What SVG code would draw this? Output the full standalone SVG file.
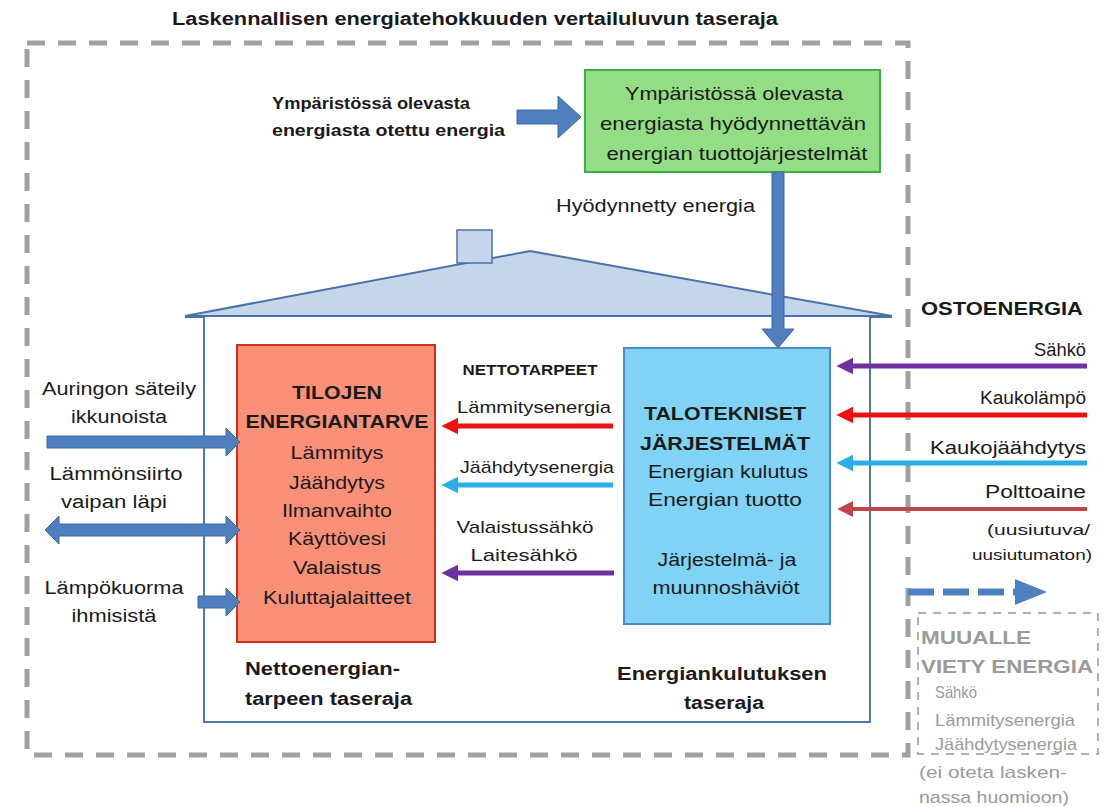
<svg xmlns="http://www.w3.org/2000/svg" width="1114" height="807" viewBox="0 0 1114 807">
<defs>
<style>
text{font-family:"Liberation Sans",Arial,sans-serif;fill:#1a1a1a}
.b{font-weight:bold}
.c{text-anchor:middle}
.r{text-anchor:end}
.f19{font-size:19px}
.f18{font-size:18px}
.f17{font-size:17px}
.f15{font-size:15px}
.g{fill:#9a9a9a}
.blk{fill:#4f7fbf;stroke:#3d69a5;stroke-width:1}
</style>
<marker id="mRed" viewBox="0 0 10 10" refX="2" refY="5" markerWidth="3.4" markerHeight="4" orient="auto"><path d="M0,0 L10,5 L0,10 z" fill="#ee1111"/></marker>
<marker id="mCyan" viewBox="0 0 10 10" refX="2" refY="5" markerWidth="3.4" markerHeight="4" orient="auto"><path d="M0,0 L10,5 L0,10 z" fill="#29aee6"/></marker>
<marker id="mPur" viewBox="0 0 10 10" refX="2" refY="5" markerWidth="3.4" markerHeight="4" orient="auto"><path d="M0,0 L10,5 L0,10 z" fill="#7030a0"/></marker>
<marker id="mBrn" viewBox="0 0 10 10" refX="2" refY="5" markerWidth="4" markerHeight="4.6" orient="auto"><path d="M0,0 L10,5 L0,10 z" fill="#c0454a"/></marker>
</defs>

<rect width="1114" height="807" fill="#ffffff"/>

<g id="boundary">
<text class="b f18 c" x="475" y="25" textLength="606" lengthAdjust="spacingAndGlyphs">Laskennallisen energiatehokkuuden vertailuluvun taseraja</text>
<rect x="27" y="43" width="881" height="712" fill="none" stroke="#a0a0a0" stroke-width="5" stroke-dasharray="18,13"/>
</g>

<g id="house">
<polygon points="185,316 530,251 892,316" fill="#c6d6ea" stroke="#4a72a8" stroke-width="2"/>
<rect x="457" y="230" width="35" height="33" fill="#c6d6ea" stroke="#4a72a8" stroke-width="1.5"/>
<line x1="185" y1="317" x2="892" y2="317" stroke="#4a72a8" stroke-width="2"/>
<polyline points="204,317 204,722 870,722 870,317" fill="#ffffff" stroke="#4e79b5" stroke-width="2"/>
</g>

<g id="env-label">
<text class="b f17" x="272" y="109" textLength="198" lengthAdjust="spacingAndGlyphs">Ympäristössä olevasta</text>
<text class="b f17" x="272" y="136" textLength="233" lengthAdjust="spacingAndGlyphs">energiasta otettu energia</text>
</g>

<g id="green-box">
<rect x="585" y="70" width="295" height="102" fill="#93de84" stroke="#3cb043" stroke-width="2"/>
<text class="f19 c" x="734" y="100" textLength="218" lengthAdjust="spacingAndGlyphs">Ympäristössä olevasta</text>
<text class="f19 c" x="733" y="130" textLength="266" lengthAdjust="spacingAndGlyphs">energiasta hyödynnettävän</text>
<text class="f19 c" x="737" y="160" textLength="261" lengthAdjust="spacingAndGlyphs">energian tuottojärjestelmät</text>
</g>

<g id="hyod-label">
<text class="f18" x="556" y="212" textLength="199" lengthAdjust="spacingAndGlyphs">Hyödynnetty  energia</text>
</g>

<g id="red-box">
<rect x="237" y="345" width="198" height="297" fill="#fa9077" stroke="#d0301f" stroke-width="2"/>
<text class="b f19 c" x="337" y="399" textLength="90" lengthAdjust="spacingAndGlyphs">TILOJEN</text>
<text class="b f19 c" x="337" y="428" textLength="183" lengthAdjust="spacingAndGlyphs">ENERGIANTARVE</text>
<text class="f19 c" x="337" y="459" textLength="93" lengthAdjust="spacingAndGlyphs">Lämmitys</text>
<text class="f19 c" x="337" y="489" textLength="96" lengthAdjust="spacingAndGlyphs">Jäähdytys</text>
<text class="f19 c" x="337" y="517" textLength="110" lengthAdjust="spacingAndGlyphs">Ilmanvaihto</text>
<text class="f19 c" x="337" y="545" textLength="98" lengthAdjust="spacingAndGlyphs">Käyttövesi</text>
<text class="f19 c" x="337" y="574" textLength="88" lengthAdjust="spacingAndGlyphs">Valaistus</text>
<text class="f19 c" x="337" y="604" textLength="148" lengthAdjust="spacingAndGlyphs">Kuluttajalaitteet</text>
</g>

<g id="blue-box">
<rect x="624" y="348" width="206" height="276" fill="#80d3f5" stroke="#4a8ac8" stroke-width="2"/>
<text class="b f19 c" x="725" y="420" textLength="162" lengthAdjust="spacingAndGlyphs">TALOTEKNISET</text>
<text class="b f19 c" x="725" y="450" textLength="170" lengthAdjust="spacingAndGlyphs">JÄRJESTELMÄT</text>
<text class="f18 c" x="728" y="478" textLength="160" lengthAdjust="spacingAndGlyphs">Energian kulutus</text>
<text class="f18 c" x="725" y="506" textLength="154" lengthAdjust="spacingAndGlyphs">Energian tuotto</text>
<text class="f18 c" x="727" y="566" textLength="139" lengthAdjust="spacingAndGlyphs">Järjestelmä- ja</text>
<text class="f18 c" x="726" y="594" textLength="147" lengthAdjust="spacingAndGlyphs">muunnoshäviöt</text>
</g>

<g id="left-labels">
<text class="f18 c" x="119" y="395" textLength="154" lengthAdjust="spacingAndGlyphs">Auringon säteily</text>
<text class="f18 c" x="119" y="423" textLength="96" lengthAdjust="spacingAndGlyphs">ikkunoista</text>
<text class="f18 c" x="116" y="480" textLength="133" lengthAdjust="spacingAndGlyphs">Lämmönsiirto</text>
<text class="f18 c" x="114" y="508" textLength="106" lengthAdjust="spacingAndGlyphs">vaipan läpi</text>
<text class="f18 c" x="114" y="594" textLength="139" lengthAdjust="spacingAndGlyphs">Lämpökuorma</text>
<text class="f18 c" x="114" y="622" textLength="85" lengthAdjust="spacingAndGlyphs">ihmisistä</text>
</g>

<g id="net-labels">
<text class="b f15 c" x="530" y="375" textLength="135" lengthAdjust="spacingAndGlyphs">NETTOTARPEET</text>
<text class="f17 c" x="534" y="413" textLength="154" lengthAdjust="spacingAndGlyphs">Lämmitysenergia</text>
<text class="f17 c" x="537" y="473" textLength="154" lengthAdjust="spacingAndGlyphs">Jäähdytysenergia</text>
<text class="f17 c" x="525" y="533" textLength="137" lengthAdjust="spacingAndGlyphs">Valaistussähkö</text>
<text class="f17 c" x="524" y="561" textLength="107" lengthAdjust="spacingAndGlyphs">Laitesähkö</text>
</g>

<g id="boundary-labels">
<text class="b f18" x="245" y="675" textLength="155" lengthAdjust="spacingAndGlyphs">Nettoenergian-</text>
<text class="b f18" x="245" y="705" textLength="167" lengthAdjust="spacingAndGlyphs">tarpeen taseraja</text>
<text class="b f18 c" x="722" y="680" textLength="210" lengthAdjust="spacingAndGlyphs">Energiankulutuksen</text>
<text class="b f18 c" x="724" y="709" textLength="80" lengthAdjust="spacingAndGlyphs">taseraja</text>
</g>

<g id="ostoenergia">
<text class="b f18" x="921" y="315" textLength="162" lengthAdjust="spacingAndGlyphs">OSTOENERGIA</text>
<text class="f18 r" x="1086" y="356" textLength="52" lengthAdjust="spacingAndGlyphs">Sähkö</text>
<text class="f18 r" x="1086" y="404" textLength="106" lengthAdjust="spacingAndGlyphs">Kaukolämpö</text>
<text class="f18 r" x="1086" y="454" textLength="156" lengthAdjust="spacingAndGlyphs">Kaukojäähdytys</text>
<text class="f18 r" x="1086" y="498" textLength="101" lengthAdjust="spacingAndGlyphs">Polttoaine</text>
<text class="f15 r" x="1090" y="535" textLength="103" lengthAdjust="spacingAndGlyphs">(uusiutuva/</text>
<text class="f15 r" x="1092" y="560" textLength="120" lengthAdjust="spacingAndGlyphs">uusiutumaton)</text>
</g>

<g id="exported">
<rect x="918" y="613" width="180" height="141" fill="none" stroke="#b0b0b0" stroke-width="2" stroke-dasharray="8,7"/>
<text class="b f19 g" x="921" y="644" textLength="110" lengthAdjust="spacingAndGlyphs">MUUALLE</text>
<text class="b f19 g" x="921" y="673" textLength="172" lengthAdjust="spacingAndGlyphs">VIETY ENERGIA</text>
<text class="f17 g" x="935" y="698" textLength="42" lengthAdjust="spacingAndGlyphs">Sähkö</text>
<text class="f17 g" x="935" y="726" textLength="140" lengthAdjust="spacingAndGlyphs">Lämmitysenergia</text>
<text class="f17 g" x="935" y="750" textLength="142" lengthAdjust="spacingAndGlyphs">Jäähdytysenergia</text>
<text class="f17 g" x="919" y="778" textLength="148" lengthAdjust="spacingAndGlyphs">(ei oteta lasken-</text>
<text class="f17 g" x="919" y="803" textLength="150" lengthAdjust="spacingAndGlyphs">nassa huomioon)</text>
</g>

<g id="connectors">
<!-- block arrows -->
<polygon class="blk" points="517,110 558,110 558,96 581,117 558,138 558,124 517,124"/>
<polygon class="blk" points="772,172 784,172 784,329 794,329 778,348 762,329 772,329"/>
<polygon class="blk" points="47,436 226,436 226,428 240,442 226,456 226,448 47,448"/>
<polygon class="blk" points="45,530 59,516 59,524 226,524 226,516 240,530 226,544 226,536 59,536 59,544"/>
<polygon class="blk" points="198,596 226,596 226,588 240,602 226,616 226,608 198,608"/>
<!-- net demand arrows -->
<line x1="613" y1="426" x2="455" y2="426" stroke="#ee1111" stroke-width="5" marker-end="url(#mRed)"/>
<line x1="613" y1="485" x2="455" y2="485" stroke="#29aee6" stroke-width="5" marker-end="url(#mCyan)"/>
<line x1="614" y1="573" x2="455" y2="573" stroke="#7030a0" stroke-width="5" marker-end="url(#mPur)"/>
<!-- purchased energy arrows -->
<line x1="1087" y1="366" x2="850" y2="366" stroke="#7030a0" stroke-width="5" marker-end="url(#mPur)"/>
<line x1="1087" y1="415" x2="850" y2="415" stroke="#ee1111" stroke-width="5" marker-end="url(#mRed)"/>
<line x1="1087" y1="463" x2="850" y2="463" stroke="#29aee6" stroke-width="5" marker-end="url(#mCyan)"/>
<line x1="1087" y1="509" x2="850" y2="509" stroke="#c0454a" stroke-width="4" marker-end="url(#mBrn)"/>
<!-- exported dashed arrow -->
<line x1="908" y1="592" x2="1016" y2="592" stroke="#4f7fbf" stroke-width="7" stroke-dasharray="26,9"/>
<polygon points="1015,579 1047,592 1015,605" fill="#4f7fbf"/>
</g>
</svg>
